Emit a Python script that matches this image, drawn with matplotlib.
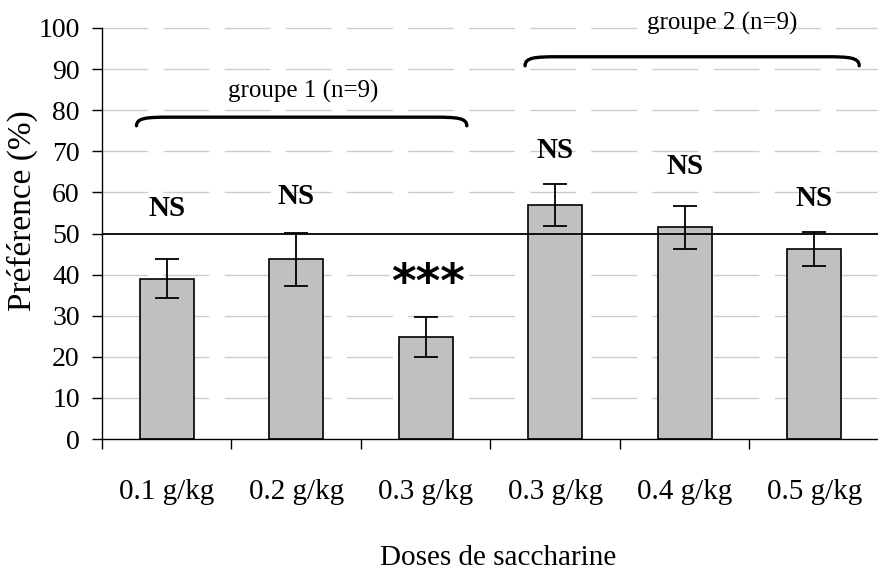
import matplotlib
matplotlib.use("Agg")
import matplotlib.pyplot as plt
import numpy as np
from matplotlib.path import Path
from matplotlib.patches import PathPatch

# données
doses = ["0.1 g/kg", "0.2 g/kg", "0.3 g/kg", "0.3 g/kg", "0.4 g/kg", "0.5 g/kg"]
preference = [39.0, 43.7, 24.8, 57.0, 51.5, 46.2]
erreur = [4.8, 6.5, 4.8, 5.1, 5.2, 4.1]
signif = ["NS", "NS", "***", "NS", "NS", "NS"]
signif_y = [56.2, 59.0, 40.0, 70.3, 66.3, 58.6]
groupes = ["groupe 1 (n=9)", "groupe 2 (n=9)"]

plt.rcParams['font.family'] = ['Liberation Serif', 'DejaVu Serif']

fig = plt.figure(figsize=(8.79, 5.70), dpi=100)
ax = fig.add_axes([0.116, 0.2298, 0.884, 0.7211])

x = np.arange(len(doses))

# grille pointillée
for v in range(10, 101, 10):
    if v == 50:
        continue
    ax.axhline(v, color='#cccccc', lw=1.0, ls=(0, (33, 11)), zorder=0, clip_on=False)

ax.bar(x, preference, width=0.42, color='#c0c0c0', edgecolor='black', linewidth=1.2, zorder=2)
ax.errorbar(x, preference, yerr=erreur, fmt='none', ecolor='black', elinewidth=1.3,
            capsize=8.5, capthick=1.3, zorder=3)

ax.axhline(50, color='black', lw=1.3, zorder=4)

for xi, s, ys in zip(x, signif, signif_y):
    if s == "***":
        ax.text(xi + 0.02, ys - 2.5, s, ha='center', va='center', fontsize=34, fontweight='bold',
                family=['DejaVu Sans'], zorder=5,
                bbox=dict(facecolor='white', edgecolor='none', pad=1))
    else:
        ax.text(xi, ys, s, ha='center', va='center', fontsize=21, fontweight='bold', zorder=5)


def accolade(x0, x1, y_haut, y_bas):
    r = 0.25
    verts = [(x0, y_bas), (x0, y_haut - 0.2), (x0 + r * 0.3, y_haut), (x0 + r, y_haut),
             (x1 - r, y_haut), (x1 - r * 0.3, y_haut), (x1, y_haut - 0.2), (x1, y_bas)]
    codes = [Path.MOVETO, Path.CURVE4, Path.CURVE4, Path.CURVE4,
             Path.LINETO, Path.CURVE4, Path.CURVE4, Path.CURVE4]
    ax.add_patch(PathPatch(Path(verts, codes), fill=False, lw=2.4, color='black',
                           capstyle='round', zorder=5, clip_on=False))


accolade(-0.233, 2.317, 78.3, 76.2)
accolade(2.767, 5.347, 93.0, 90.8)
ax.text(1.05, 84.5, groupes[0], ha='center', va='center', fontsize=18)
ax.text(4.29, 101.0, groupes[1], ha='center', va='center', fontsize=18, clip_on=False)

ax.set_xlim(-0.5, 5.43)
ax.set_ylim(0, 100)
ax.set_yticks(np.arange(0, 101, 10))
ax.tick_params(axis='y', labelsize=20, direction='out', length=7, width=1, pad=9)

ax.set_xticks(np.arange(-0.5, 6, 1.0))
ax.set_xticklabels([])
ax.tick_params(axis='x', which='major', direction='out', length=7, width=1)
ax.set_xticks(x, minor=True)
ax.set_xticklabels(doses, minor=True)
ax.tick_params(axis='x', which='minor', length=0, labelsize=21, pad=29)

for side in ['top', 'right']:
    ax.spines[side].set_visible(False)
for side in ['left', 'bottom']:
    ax.spines[side].set_linewidth(1.0)

ax.set_ylabel("Préférence (%)", fontsize=24)
ax.yaxis.set_label_coords(-0.082, 0.555)
ax.set_xlabel("Doses de saccharine", fontsize=21)
ax.xaxis.set_label_coords(0.51, -0.258)

fig.savefig("out.png", dpi=100)
